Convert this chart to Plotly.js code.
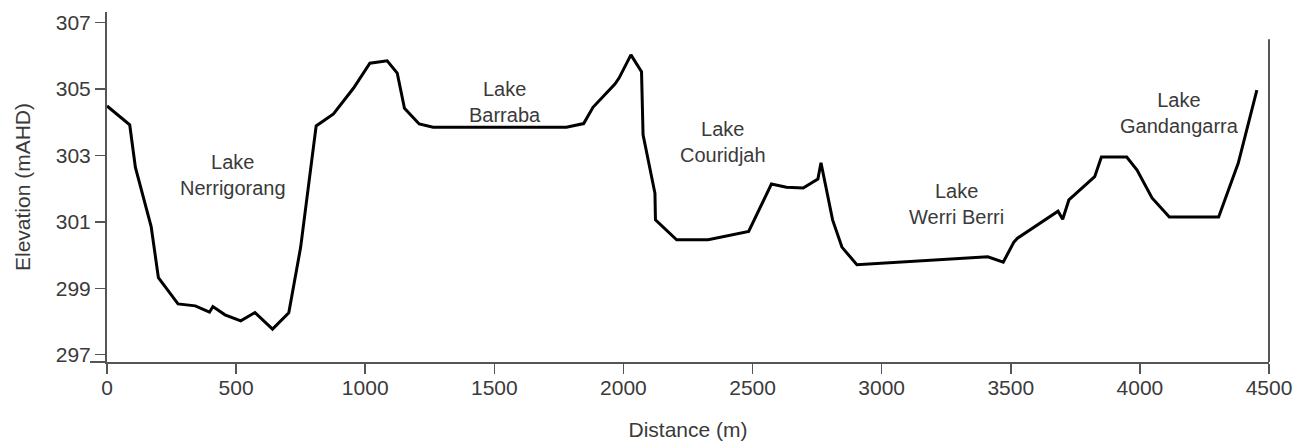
<!DOCTYPE html>
<html>
<head>
<meta charset="utf-8">
<script src="https://cdn.plot.ly/plotly-3.0.1.min.js"></script>
<style>
  html, body { margin: 0; padding: 0; background: #ffffff; }
  #chart { width: 1304px; height: 445px; }
</style>
</head>
<body>
<div id="chart"></div>
<script>
// Profile data
const distance = [0, 88, 110, 171, 199, 275, 342, 397, 410, 457, 518, 573, 641, 704, 750,
  810, 877, 955, 1018, 1085, 1124, 1152, 1209, 1263, 1779, 1846, 1882, 1967, 1983, 2029,
  2070, 2076, 2122, 2124, 2206, 2328, 2485, 2573, 2631, 2696, 2753, 2765, 2810, 2846, 2904,
  3411, 3471, 3512, 3526, 3683, 3701, 3725, 3825, 3851, 3949, 3989, 4047, 4114, 4305, 4381, 4453];
const elevation = [304.49, 303.92, 302.64, 300.86, 299.32, 298.53, 298.47, 298.28, 298.45, 298.20,
  298.02, 298.27, 297.77, 298.26, 300.24, 303.89, 304.25, 305.03, 305.78, 305.85, 305.48, 304.42,
  303.95, 303.85, 303.85, 303.96, 304.45, 305.15, 305.33, 306.03, 305.52, 303.62, 301.86, 301.06,
  300.46, 300.46, 300.71, 302.14, 302.04, 302.02, 302.29, 302.78, 301.06, 300.24, 299.71,
  299.95, 299.79, 300.39, 300.51, 301.32, 301.08, 301.66, 302.36, 302.95, 302.95, 302.56,
  301.72, 301.15, 301.15, 302.77, 304.97];

// Lake labels
const lakeNames = ["Lake<br>Nerrigorang", "Lake<br>Barraba", "Lake<br>Couridjah", "Lake<br>Werri Berri", "Lake<br>Gandangarra"];
const lakeX = [489, 1540, 2384, 3288, 4155];
const lakeY = [302.41, 304.61, 303.41, 301.54, 304.28];

// Axis ticks
const xTicks = [0, 500, 1000, 1500, 2000, 2500, 3000, 3500, 4000, 4500];
const yTicks = [297, 299, 301, 303, 305, 307];

const textColor = "#3a3a3a";
const axisColor = "#555555";
const fontFamily = "'Liberation Sans', Arial, sans-serif";

const trace = {
  x: distance,
  y: elevation,
  type: "scatter",
  mode: "lines",
  line: { color: "#000000", width: 3, shape: "linear" },
  hoverinfo: "x+y"
};

const annotations = lakeNames.map((t, i) => ({
  text: t,
  x: lakeX[i],
  y: lakeY[i],
  xref: "x",
  yref: "y",
  showarrow: false,
  xanchor: "center",
  yanchor: "middle",
  align: "center",
  font: { family: fontFamily, size: 20, color: textColor }
}));

const layout = {
  width: 1304,
  height: 445,
  margin: { l: 107, r: 35, t: 12, b: 83, pad: 0 },
  paper_bgcolor: "#ffffff",
  plot_bgcolor: "#ffffff",
  showlegend: false,
  font: { family: fontFamily, size: 21, color: textColor },
  xaxis: {
    range: [0, 4500],
    tickmode: "array",
    tickvals: xTicks,
    ticktext: xTicks.map(String),
    ticks: "outside",
    ticklen: 10,
    tickwidth: 1.5,
    tickcolor: axisColor,
    ticklabelstandoff: -4,
    showline: true,
    linecolor: axisColor,
    linewidth: 2,
    showgrid: false,
    zeroline: false,
    tickfont: { family: fontFamily, size: 21, color: textColor },
    title: { text: "Distance (m)", standoff: 24, font: { family: fontFamily, size: 21, color: textColor } }
  },
  yaxis: {
    range: [296.78, 307.32],
    tickmode: "array",
    tickvals: yTicks,
    ticktext: yTicks.map(String),
    ticks: "outside",
    ticklen: 10,
    tickwidth: 1.5,
    tickcolor: axisColor,
    showline: true,
    linecolor: axisColor,
    linewidth: 2,
    showgrid: false,
    zeroline: false,
    tickfont: { family: fontFamily, size: 21, color: textColor },
    title: { text: "Elevation (mAHD)", standoff: 19, font: { family: fontFamily, size: 21, color: textColor } }
  },
  shapes: [
    { type: "line", xref: "paper", yref: "paper", x0: 1, x1: 1, y0: 0, y1: 0.922,
      line: { color: axisColor, width: 2 } },
    { type: "line", xref: "paper", yref: "paper", x0: -0.0146, x1: 0, y0: 0, y1: 0,
      line: { color: axisColor, width: 2 } }
  ],
  annotations: annotations
};

Plotly.newPlot("chart", [trace], layout, { staticPlot: true, displayModeBar: false });
</script>
</body>
</html>
